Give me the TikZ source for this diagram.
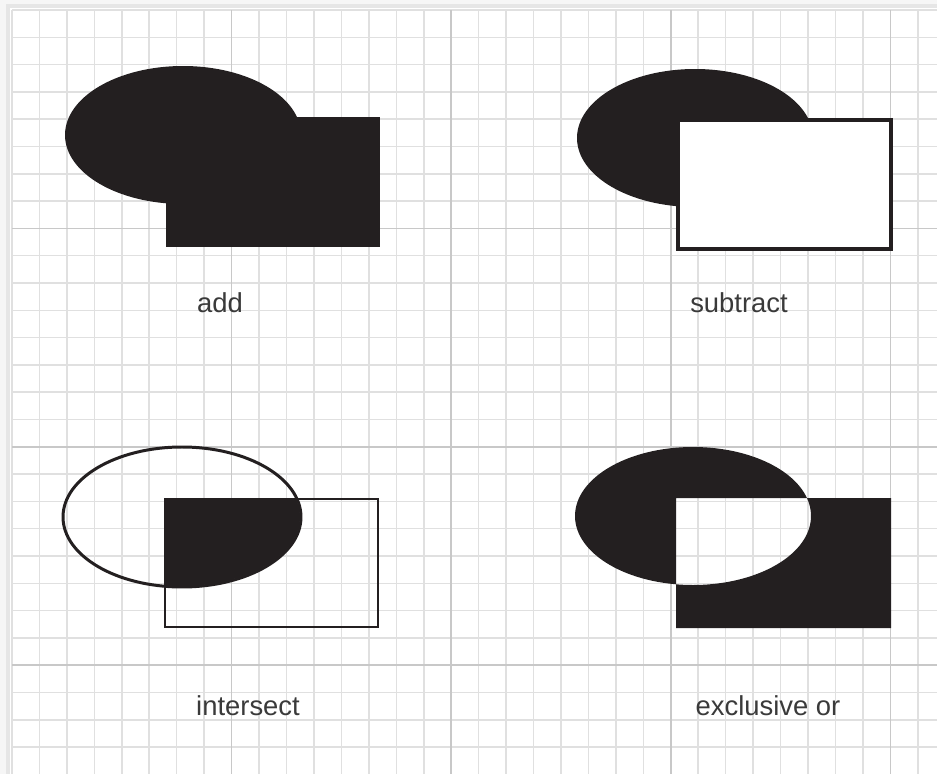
\documentclass[tikz,border=0pt]{standalone}
\usepackage{fontspec}
\setmainfont{Liberation Sans}
\usepackage{tikz}
\definecolor{inkcolor}{RGB}{35, 31, 32}
\definecolor{labelcolor}{RGB}{58, 58, 58}
\definecolor{minorgrid}{RGB}{224, 224, 224}
\definecolor{majorgrid}{RGB}{200, 200, 200}
\definecolor{pagebg}{RGB}{246, 246, 246}
\definecolor{shadowcolor}{RGB}{230, 230, 230}
\tikzset{
minorline/.style={
  draw=minorgrid,
  line width=0.9pt
},
majorline/.style={
  draw=majorgrid,
  line width=1pt
},
opname/.style={
  font=\fontsize{15.6pt}{18pt}\selectfont,
  text=labelcolor,
  anchor=base,
  inner sep=0pt
},
solidfill/.style={
  fill=inkcolor
},
outline/.style={
  draw=inkcolor,
  line width=1.7pt
}
}
\begin{document}
\begin{tikzpicture}[x=0.02cm, y=-0.02cm]
  % Grid pitch (pixels)
  \def\gx{27.45}
  \def\gy{27.3}
  \def\xo{12}
  \def\yo{10}

  % Page and shadow
  \fill[pagebg] (0,0) rectangle (937,774);
  \fill[shadowcolor] (6,4) rectangle (937,774);
  \fill[white] (10,8) rectangle (937,774);
  \useasboundingbox (0,0) rectangle (937,774);

  % Grid lines - minor first, every 8th darker
  \foreach \k in {0,...,33} {
    \draw[minorline] (\xo+\k*\gx, \yo) -- (\xo+\k*\gx, 774);
  }
  \foreach \k in {0,...,28} {
    \draw[minorline] (\xo, \yo+\k*\gy) -- (937, \yo+\k*\gy);
  }
  \foreach \k in {8,16,24,32} {
    \draw[majorline] (\xo+\k*\gx, \yo) -- (\xo+\k*\gx, 774);
  }
  \foreach \k in {8,16,24} {
    \draw[majorline] (\xo, \yo+\k*\gy) -- (937, \yo+\k*\gy);
  }

  % add
  \begin{scope}[shift={(183,135)}]
    \fill[solidfill] (0,0) ellipse [x radius=118, y radius=69];
    \fill[solidfill] (-17,-18) rectangle (197,112);
  \end{scope}
  \node[opname] (addlabel) at (220,312) {add};

  % subtract
  \begin{scope}[shift={(695,138)}]
    \fill[solidfill] (0,0) ellipse [x radius=118, y radius=69];
    \filldraw[outline, fill=white, line width=1.8pt] (-17,-18) rectangle (196,111);
  \end{scope}
  \node[opname] (subtractlabel) at (739,312) {subtract};

  % intersect
  \begin{scope}[shift={(182,517)}]
    \begin{scope}
      \clip (-17,-18) rectangle (196,110);
      \fill[solidfill] (0,0) ellipse [x radius=118, y radius=69];
    \end{scope}
    \draw[outline] (0,0) ellipse [x radius=119, y radius=70];
    \draw[outline] (-17,-18) rectangle (196,110);
  \end{scope}
  \node[opname] (intersectlabel) at (248,715) {intersect};

  % exclusive or
  \begin{scope}[shift={(693,516)}]
    \fill[solidfill, even odd rule] (0,0) ellipse [x radius=118, y radius=69]
      (-17,-18) rectangle (198,112);
  \end{scope}
  \node[opname] (xorlabel) at (768,715) {exclusive or};
\end{tikzpicture}
\end{document}
